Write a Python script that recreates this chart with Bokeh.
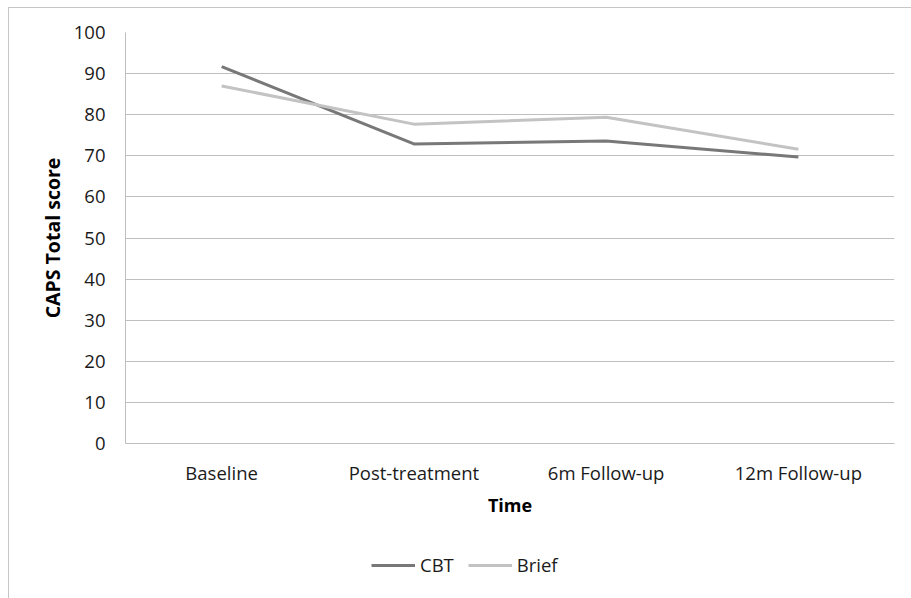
from bokeh.plotting import figure
from bokeh.models import Range1d, FactorRange, Legend, LegendItem
from bokeh.layouts import column
from bokeh.embed import file_html
from bokeh.resources import INLINE

categories = ["Baseline", "Post-treatment", "6m Follow-up", "12m Follow-up"]
cbt = [91.7, 72.9, 73.6, 69.7]
brief = [87.0, 77.7, 79.4, 71.6]
y_ticks = [0, 10, 20, 30, 40, 50, 60, 70, 80, 90, 100]
series_names = ["CBT", "Brief"]
series_colors = ["#787878", "#c3c3c3"]

FONT = "Open Sans"
GRID = "#bfbfbf"

p = figure(width=902, height=530, x_range=FactorRange(*categories, range_padding=0),
           y_range=Range1d(0, 100), output_backend="svg", toolbar_location=None,
           min_border_left=116, min_border_right=17, min_border_top=24, min_border_bottom=95)

p.line(categories, cbt, line_color=series_colors[0], line_width=3)
p.line(categories, brief, line_color=series_colors[1], line_width=3)

p.outline_line_color = None
p.xgrid.grid_line_color = None
p.ygrid.grid_line_color = GRID
p.ygrid.ticker = y_ticks
p.yaxis.ticker = y_ticks

for ax in (p.xaxis[0], p.yaxis[0]):
    ax.axis_line_color = GRID
    ax.major_tick_line_color = None
    ax.minor_tick_line_color = None
    ax.major_tick_out = 0
    ax.major_label_text_font = FONT
    ax.major_label_text_font_size = "18.5px"
    ax.major_label_text_color = "#1a1a1a"
    ax.axis_label_text_font = FONT
    ax.axis_label_text_font_style = "bold"
    ax.axis_label_text_color = "#000000"

p.yaxis.axis_label = "CAPS Total score"
p.yaxis.axis_label_text_font_size = "19.5px"
p.yaxis.major_label_standoff = 20
p.yaxis.axis_label_standoff = 5
p.xaxis.axis_label = "Time"
p.xaxis.axis_label_text_font_size = "18px"
p.xaxis.major_label_standoff = 16
p.xaxis.axis_label_standoff = 5

# legend strip below the chart
q = figure(width=902, height=60, x_range=Range1d(0, 1), y_range=Range1d(0, 1),
           output_backend="svg", toolbar_location=None,
           min_border_left=0, min_border_right=0, min_border_top=0, min_border_bottom=0)
q.axis.visible = False
q.grid.grid_line_color = None
q.outline_line_color = None
nan = float("nan")
l1 = q.line(x=[nan], y=[nan], line_color=series_colors[0], line_width=3)
l2 = q.line(x=[nan], y=[nan], line_color=series_colors[1], line_width=3)

legend = Legend(items=[LegendItem(label=series_names[0], renderers=[l1]),
                       LegendItem(label=series_names[1], renderers=[l2])],
                orientation="horizontal", location=(246, 21),
                label_text_font=FONT, label_text_font_size="18.5px", label_text_color="#1a1a1a",
                glyph_width=44, glyph_height=20, label_height=20,
                label_standoff=5, spacing=14,
                border_line_color=None, background_fill_alpha=0, margin=0, padding=0)
q.add_layout(legend, "center")

layout = column(p, q, spacing=0)
layout.styles = {"border-left": "1px solid #c6c6c6", "border-top": "1px solid #c6c6c6",
                 "margin-left": "8px", "margin-top": "7px"}

open("out.html", "w").write(file_html(layout, INLINE))
